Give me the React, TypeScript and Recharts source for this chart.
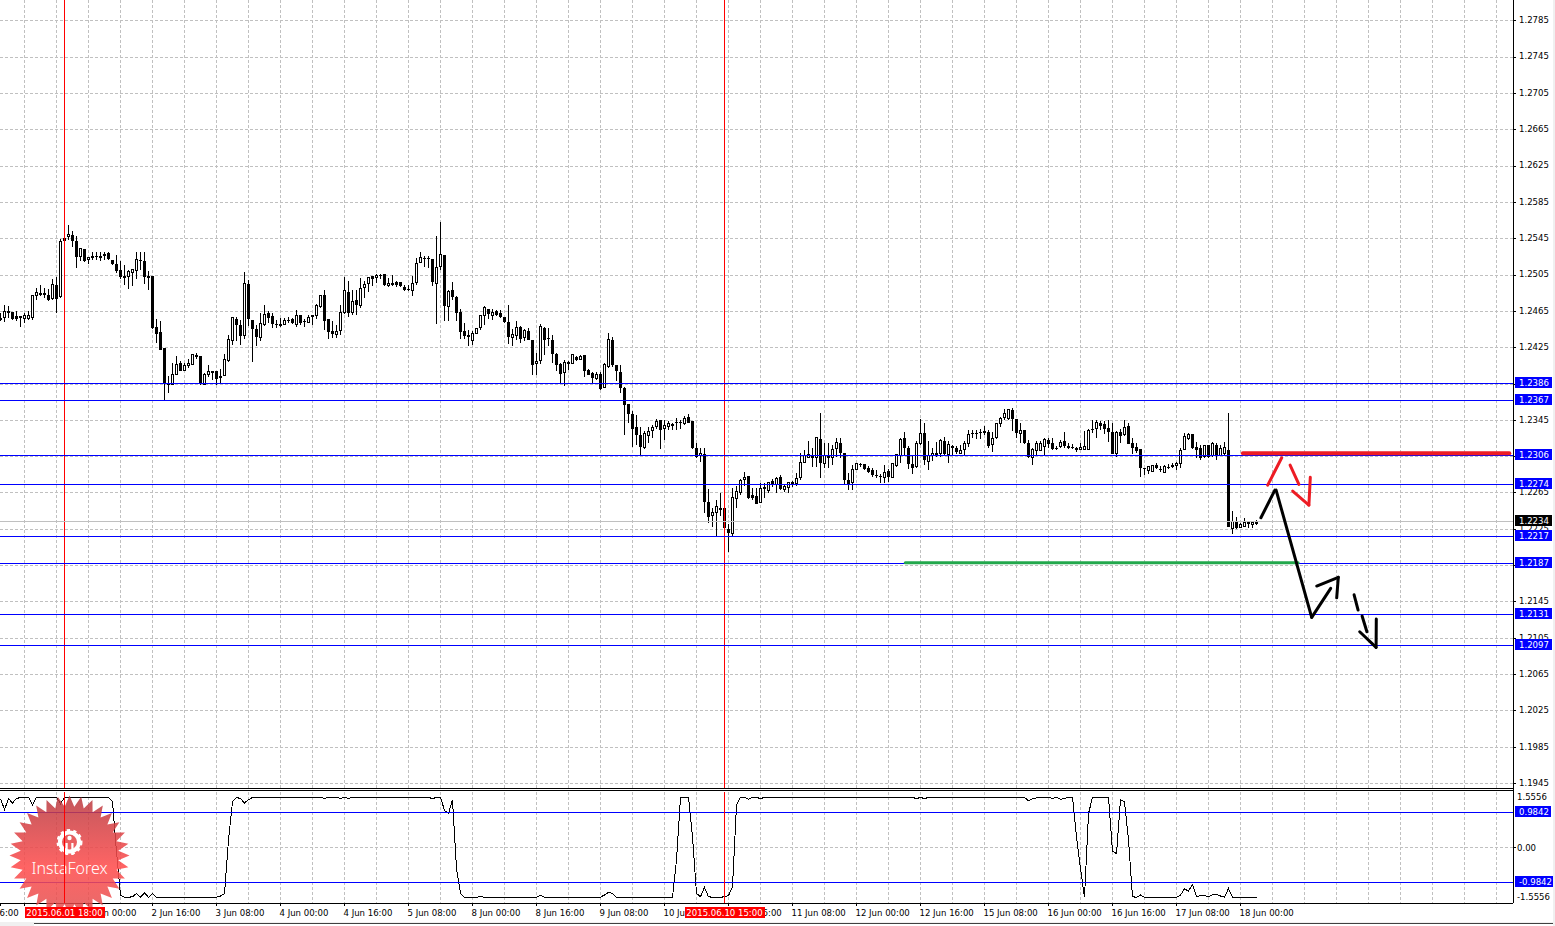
import React from "react";
import {
  ComposedChart,
  Bar,
  Line,
  XAxis,
  YAxis,
  CartesianGrid,
  ReferenceLine,
} from "recharts";

// hourly EURUSD-style bars, ten per row
const opens = [
  1.2458,1.2458,1.2465,1.2464,1.2460,1.2458,1.2457,1.2457,1.2458,1.2482,
  1.2485,1.2485,1.2483,1.2479,1.2494,1.2481,1.2546,1.2547,1.2549,1.2542,
  1.2525,1.2534,1.2522,1.2526,1.2526,1.2526,1.2528,1.2529,1.2522,1.2517,
  1.2511,1.2504,1.2503,1.2508,1.2510,1.2522,1.2521,1.2504,1.2504,1.2448,
  1.2442,1.2425,1.2386,1.2384,1.2395,1.2408,1.2400,1.2405,1.2407,1.2417,
  1.2416,1.2385,1.2395,1.2398,1.2399,1.2394,1.2394,1.2411,1.2433,1.2457,
  1.2450,1.2438,1.2495,1.2455,1.2446,1.2436,1.2450,1.2463,1.2460,1.2451,
  1.2451,1.2451,1.2456,1.2457,1.2451,1.2461,1.2454,1.2453,1.2461,1.2460,
  1.2470,1.2483,1.2457,1.2443,1.2439,1.2444,1.2464,1.2486,1.2464,1.2478,
  1.2471,1.2491,1.2496,1.2504,1.2502,1.2505,1.2506,1.2493,1.2496,1.2497,
  1.2497,1.2492,1.2490,1.2488,1.2497,1.2519,1.2524,1.2524,1.2523,1.2496,
  1.2514,1.2527,1.2470,1.2488,1.2481,1.2464,1.2443,1.2439,1.2433,1.2441,
  1.2447,1.2460,1.2468,1.2461,1.2465,1.2463,1.2459,1.2453,1.2436,1.2438,
  1.2448,1.2436,1.2443,1.2433,1.2408,1.2411,1.2447,1.2436,1.2434,1.2418,
  1.2407,1.2398,1.2408,1.2408,1.2415,1.2412,1.2417,1.2400,1.2397,1.2391,
  1.2396,1.2381,1.2404,1.2433,1.2406,1.2398,1.2381,1.2363,1.2352,1.2338,
  1.2329,1.2315,1.2328,1.2334,1.2338,1.2345,1.2336,1.2338,1.2341,1.2343,
  1.2343,1.2341,1.2349,1.2344,1.2315,1.2306,1.2308,1.2255,1.2240,1.2244,
  1.2249,1.2248,1.2225,1.2220,1.2259,1.2265,1.2280,1.2284,1.2263,1.2262,
  1.2254,1.2272,1.2268,1.2278,1.2274,1.2283,1.2269,1.2271,1.2275,1.2275,
  1.2282,1.2299,1.2304,1.2306,1.2304,1.2324,1.2298,1.2306,1.2304,1.2314,
  1.2320,1.2309,1.2279,1.2276,1.2291,1.2297,1.2297,1.2293,1.2290,1.2285,
  1.2284,1.2282,1.2289,1.2282,1.2295,1.2306,1.2325,1.2315,1.2297,1.2294,
  1.2319,1.2331,1.2300,1.2306,1.2309,1.2308,1.2322,1.2307,1.2315,1.2314,
  1.2309,1.2313,1.2319,1.2331,1.2331,1.2332,1.2333,1.2332,1.2318,1.2326,
  1.2341,1.2348,1.2347,1.2356,1.2346,1.2331,1.2334,1.2320,1.2304,1.2312,
  1.2312,1.2316,1.2323,1.2320,1.2315,1.2316,1.2322,1.2317,1.2316,1.2314,
  1.2313,1.2313,1.2313,1.2335,1.2336,1.2342,1.2341,1.2337,1.2332,1.2308,
  1.2332,1.2329,1.2339,1.2320,1.2316,1.2313,1.2293,1.2290,1.2289,1.2296,
  1.2291,1.2288,1.2294,1.2296,1.2295,1.2297,1.2313,1.2325,1.2330,1.2316,
  1.2315,1.2305,1.2318,1.2306,1.2318,1.2306,1.2309,1.2312,1.2226,1.2233,
  1.2227,1.2228,1.2231,1.2230,1.2232,
];

const highs = [
  1.2463,1.2472,1.2471,1.2464,1.2465,1.2460,1.2463,1.2465,1.2483,1.2491,
  1.2494,1.2491,1.2490,1.2501,1.2503,1.2545,1.2548,1.2560,1.2554,1.2548,
  1.2534,1.2534,1.2524,1.2530,1.2530,1.2530,1.2530,1.2530,1.2522,1.2527,
  1.2520,1.2516,1.2511,1.2511,1.2530,1.2530,1.2530,1.2509,1.2504,1.2457,
  1.2454,1.2425,1.2394,1.2408,1.2416,1.2410,1.2408,1.2413,1.2417,1.2419,
  1.2416,1.2397,1.2406,1.2399,1.2399,1.2402,1.2418,1.2439,1.2459,1.2459,
  1.2456,1.2508,1.2500,1.2455,1.2450,1.2463,1.2472,1.2465,1.2463,1.2455,
  1.2458,1.2458,1.2459,1.2458,1.2467,1.2461,1.2457,1.2461,1.2461,1.2473,
  1.2483,1.2489,1.2457,1.2454,1.2450,1.2472,1.2503,1.2498,1.2488,1.2488,
  1.2502,1.2498,1.2502,1.2504,1.2506,1.2506,1.2506,1.2502,1.2505,1.2498,
  1.2497,1.2494,1.2494,1.2504,1.2524,1.2530,1.2526,1.2526,1.2523,1.2548,
  1.2563,1.2527,1.2489,1.2497,1.2482,1.2468,1.2452,1.2444,1.2443,1.2447,
  1.2461,1.2471,1.2468,1.2468,1.2467,1.2467,1.2459,1.2472,1.2446,1.2454,
  1.2449,1.2446,1.2447,1.2433,1.2419,1.2451,1.2448,1.2447,1.2439,1.2419,
  1.2408,1.2411,1.2410,1.2418,1.2416,1.2417,1.2417,1.2401,1.2398,1.2398,
  1.2398,1.2408,1.2441,1.2437,1.2406,1.2406,1.2382,1.2363,1.2355,1.2351,
  1.2338,1.2333,1.2338,1.2340,1.2347,1.2345,1.2345,1.2344,1.2342,1.2348,
  1.2345,1.2350,1.2352,1.2344,1.2320,1.2314,1.2314,1.2269,1.2248,1.2257,
  1.2265,1.2248,1.2231,1.2271,1.2273,1.2280,1.2288,1.2284,1.2270,1.2270,
  1.2276,1.2276,1.2277,1.2280,1.2283,1.2285,1.2275,1.2277,1.2278,1.2287,
  1.2309,1.2312,1.2322,1.2314,1.2327,1.2353,1.2320,1.2320,1.2318,1.2326,
  1.2325,1.2309,1.2287,1.2296,1.2298,1.2298,1.2297,1.2295,1.2293,1.2290,
  1.2286,1.2296,1.2291,1.2298,1.2308,1.2325,1.2332,1.2317,1.2307,1.2322,
  1.2346,1.2342,1.2322,1.2314,1.2321,1.2324,1.2327,1.2322,1.2318,1.2317,
  1.2318,1.2322,1.2334,1.2334,1.2334,1.2336,1.2339,1.2334,1.2332,1.2342,
  1.2349,1.2357,1.2358,1.2359,1.2346,1.2342,1.2334,1.2323,1.2314,1.2322,
  1.2322,1.2326,1.2326,1.2325,1.2317,1.2323,1.2332,1.2320,1.2319,1.2316,
  1.2320,1.2333,1.2335,1.2345,1.2345,1.2344,1.2344,1.2345,1.2342,1.2333,
  1.2336,1.2345,1.2342,1.2325,1.2320,1.2313,1.2293,1.2295,1.2296,1.2298,
  1.2295,1.2296,1.2297,1.2298,1.2299,1.2315,1.2331,1.2331,1.2330,1.2321,
  1.2318,1.2318,1.2318,1.2321,1.2320,1.2318,1.2321,1.2353,1.2245,1.2239,
  1.2232,1.2237,1.2233,1.2232,1.2235,
];

const lows = [
  1.2454,1.2453,1.2458,1.2455,1.2454,1.2448,1.2452,1.2455,1.2455,1.2477,
  1.2482,1.2480,1.2476,1.2477,1.2463,1.2480,1.2540,1.2544,1.2536,1.2513,
  1.2520,1.2519,1.2517,1.2522,1.2522,1.2521,1.2522,1.2522,1.2516,1.2507,
  1.2501,1.2494,1.2490,1.2493,1.2501,1.2511,1.2495,1.2489,1.2446,1.2430,
  1.2422,1.2367,1.2375,1.2384,1.2395,1.2399,1.2399,1.2403,1.2406,1.2413,
  1.2384,1.2384,1.2393,1.2389,1.2384,1.2386,1.2394,1.2409,1.2428,1.2432,
  1.2428,1.2435,1.2449,1.2409,1.2427,1.2432,1.2449,1.2452,1.2447,1.2447,
  1.2448,1.2450,1.2452,1.2451,1.2448,1.2450,1.2448,1.2452,1.2450,1.2457,
  1.2469,1.2444,1.2435,1.2436,1.2436,1.2439,1.2462,1.2459,1.2461,1.2461,
  1.2469,1.2480,1.2486,1.2493,1.2496,1.2501,1.2493,1.2492,1.2493,1.2492,
  1.2492,1.2487,1.2487,1.2482,1.2494,1.2518,1.2514,1.2513,1.2493,1.2451,
  1.2511,1.2454,1.2454,1.2477,1.2454,1.2435,1.2435,1.2427,1.2428,1.2440,
  1.2445,1.2450,1.2457,1.2455,1.2460,1.2458,1.2452,1.2429,1.2427,1.2433,
  1.2430,1.2432,1.2433,1.2395,1.2395,1.2407,1.2417,1.2427,1.2408,1.2399,
  1.2386,1.2383,1.2400,1.2407,1.2410,1.2411,1.2393,1.2395,1.2386,1.2389,
  1.2378,1.2381,1.2403,1.2404,1.2388,1.2375,1.2329,1.2342,1.2316,1.2318,
  1.2307,1.2313,1.2320,1.2325,1.2336,1.2313,1.2323,1.2334,1.2334,1.2334,
  1.2336,1.2340,1.2342,1.2313,1.2304,1.2299,1.2243,1.2232,1.2228,1.2216,
  1.2240,1.2221,1.2200,1.2216,1.2248,1.2263,1.2273,1.2258,1.2257,1.2253,
  1.2254,1.2260,1.2265,1.2272,1.2265,1.2268,1.2266,1.2265,1.2272,1.2273,
  1.2279,1.2298,1.2303,1.2294,1.2294,1.2281,1.2292,1.2293,1.2296,1.2305,
  1.2303,1.2275,1.2268,1.2268,1.2290,1.2294,1.2290,1.2287,1.2283,1.2281,
  1.2276,1.2276,1.2277,1.2281,1.2294,1.2298,1.2306,1.2291,1.2286,1.2293,
  1.2318,1.2296,1.2290,1.2300,1.2305,1.2305,1.2307,1.2298,1.2307,1.2308,
  1.2309,1.2307,1.2316,1.2325,1.2324,1.2324,1.2329,1.2315,1.2310,1.2324,
  1.2338,1.2345,1.2345,1.2333,1.2325,1.2320,1.2319,1.2304,1.2296,1.2307,
  1.2311,1.2307,1.2315,1.2312,1.2312,1.2314,1.2315,1.2313,1.2313,1.2310,
  1.2312,1.2313,1.2313,1.2331,1.2325,1.2334,1.2330,1.2321,1.2308,1.2305,
  1.2320,1.2328,1.2319,1.2308,1.2309,1.2283,1.2285,1.2286,1.2288,1.2291,
  1.2288,1.2287,1.2291,1.2292,1.2290,1.2292,1.2312,1.2323,1.2313,1.2303,
  1.2301,1.2303,1.2304,1.2305,1.2301,1.2306,1.2307,1.2228,1.2220,1.2225,
  1.2226,1.2227,1.2226,1.2226,1.2230,
];

const closes = [
  1.2455,1.2465,1.2463,1.2457,1.2457,1.2459,1.2460,1.2460,1.2482,1.2486,
  1.2483,1.2483,1.2478,1.2495,1.2479,1.2542,1.2542,1.2550,1.2542,1.2525,
  1.2534,1.2520,1.2524,1.2524,1.2525,1.2524,1.2526,1.2523,1.2517,1.2509,
  1.2503,1.2502,1.2509,1.2511,1.2522,1.2521,1.2503,1.2502,1.2447,1.2440,
  1.2422,1.2385,1.2384,1.2396,1.2407,1.2399,1.2405,1.2408,1.2417,1.2415,
  1.2385,1.2396,1.2399,1.2399,1.2391,1.2392,1.2412,1.2434,1.2458,1.2450,
  1.2438,1.2496,1.2457,1.2446,1.2437,1.2452,1.2462,1.2458,1.2451,1.2450,
  1.2449,1.2455,1.2454,1.2452,1.2461,1.2452,1.2453,1.2458,1.2459,1.2471,
  1.2483,1.2454,1.2442,1.2440,1.2443,1.2464,1.2488,1.2463,1.2476,1.2472,
  1.2490,1.2495,1.2502,1.2501,1.2505,1.2504,1.2494,1.2496,1.2494,1.2494,
  1.2493,1.2489,1.2489,1.2496,1.2518,1.2524,1.2523,1.2523,1.2497,1.2513,
  1.2528,1.2471,1.2487,1.2481,1.2463,1.2442,1.2438,1.2437,1.2441,1.2446,
  1.2461,1.2469,1.2462,1.2464,1.2461,1.2459,1.2453,1.2437,1.2439,1.2447,
  1.2435,1.2444,1.2434,1.2406,1.2410,1.2448,1.2433,1.2435,1.2418,1.2406,
  1.2396,1.2409,1.2409,1.2417,1.2411,1.2415,1.2399,1.2395,1.2392,1.2396,
  1.2380,1.2406,1.2434,1.2406,1.2399,1.2381,1.2362,1.2352,1.2336,1.2329,
  1.2316,1.2330,1.2333,1.2337,1.2344,1.2334,1.2339,1.2341,1.2339,1.2342,
  1.2342,1.2347,1.2342,1.2314,1.2305,1.2309,1.2255,1.2239,1.2244,1.2250,
  1.2246,1.2226,1.2221,1.2260,1.2267,1.2279,1.2282,1.2260,1.2259,1.2253,
  1.2270,1.2269,1.2276,1.2274,1.2281,1.2269,1.2272,1.2276,1.2276,1.2281,
  1.2299,1.2306,1.2307,1.2304,1.2326,1.2298,1.2306,1.2303,1.2313,1.2321,
  1.2309,1.2279,1.2275,1.2291,1.2297,1.2297,1.2291,1.2288,1.2285,1.2284,
  1.2283,1.2288,1.2283,1.2297,1.2307,1.2324,1.2314,1.2297,1.2293,1.2320,
  1.2330,1.2301,1.2306,1.2309,1.2306,1.2323,1.2308,1.2318,1.2316,1.2310,
  1.2312,1.2320,1.2329,1.2330,1.2331,1.2331,1.2331,1.2317,1.2325,1.2341,
  1.2347,1.2353,1.2357,1.2346,1.2331,1.2334,1.2320,1.2305,1.2313,1.2320,
  1.2320,1.2324,1.2319,1.2313,1.2313,1.2321,1.2317,1.2315,1.2314,1.2312,
  1.2315,1.2316,1.2334,1.2334,1.2343,1.2339,1.2336,1.2332,1.2308,1.2332,
  1.2328,1.2337,1.2319,1.2315,1.2311,1.2293,1.2292,1.2294,1.2295,1.2292,
  1.2290,1.2294,1.2293,1.2294,1.2298,1.2312,1.2327,1.2329,1.2315,1.2312,
  1.2304,1.2317,1.2305,1.2319,1.2307,1.2314,1.2315,1.2228,1.2234,1.2226,
  1.2230,1.2233,1.2232,1.2232,1.2233,
];

const H = 1.405;
const L = -1.395;
const osc = [
  1.37,1.06,1.37,1.25,1.37,H,H,H,1.19,H,
  H,H,H,H,H,1.23,H,H,H,H,
  H,H,H,H,H,H,H,H,1.28,-0.12,
  -1.33,L,L,-1.38,-1.29,L,-1.27,L,-1.29,L,
  L,L,L,L,L,L,L,L,L,-1.39,
  L,L,L,L,L,-1.36,-1.29,0.21,1.28,H,
  1.37,1.25,1.34,H,H,H,H,H,H,H,
  H,H,H,H,H,H,H,H,H,H,
  H,1.38,H,H,H,1.38,H,1.38,H,H,
  H,H,H,H,H,H,H,H,H,H,
  H,H,H,H,H,H,H,H,1.37,H,
  H,1.04,0.95,1.34,-0.59,-1.29,L,L,L,L,
  -1.37,L,L,L,L,L,L,L,L,L,
  L,L,L,L,L,-1.34,L,L,L,L,
  L,L,L,L,L,L,L,L,L,L,
  -1.39,-1.33,-1.26,-1.29,L,L,L,L,L,L,
  L,L,L,L,L,L,L,L,L,-0.35,
  H,H,H,0.3,-1.29,-1.38,-1.12,-1.38,L,L,
  L,-1.38,-1.35,-1.1,1.19,H,H,1.35,H,H,
  1.37,H,H,H,H,H,H,H,H,H,
  H,H,H,H,H,H,H,H,H,H,
  H,H,H,H,H,H,H,H,H,H,
  H,H,H,H,H,H,H,H,H,1.37,
  H,1.37,H,H,H,H,H,H,H,H,
  H,H,H,H,H,H,H,H,H,H,
  H,H,H,H,H,H,H,1.31,1.37,1.39,
  H,H,H,1.38,H,1.35,1.38,H,H,0.3,
  -0.59,L,0.95,H,H,H,H,H,-0.1,-0.17,
  1.34,1.28,0.21,-1.38,L,-1.33,L,L,L,L,
  L,L,L,L,L,-1.33,-1.16,-1.22,-1.04,-1.38,
  -1.35,-1.35,-1.38,-1.32,-1.32,-1.36,L,-1.15,L,L,
  L,L,L,L,L,
];

const priceTicks = [
  1.2785,1.2745,1.2705,1.2665,1.2625,1.2585,1.2545,1.2505,1.2465,1.2425,1.2385,
  1.2345,1.2305,1.2265,1.2225,1.2185,1.2145,1.2105,1.2065,1.2025,1.1985,1.1945,
];
const gridBars = [
  6,14,22,30,38,46,54,62,70,78,86,94,102,110,118,126,134,142,150,158,166,174,182,190,
  198,206,214,222,230,238,246,254,262,270,278,286,294,302,310,318,326,334,342,350,358,366,374,
];
const timeBars = [0,6,22,38,54,70,86,102,118,134,150,166,182,198,214,230,246,262,278,294,310];
const timeLabels = [
  "6:00","","2 Jun 00:00","2 Jun 16:00","3 Jun 08:00","4 Jun 00:00","4 Jun 16:00",
  "5 Jun 08:00","8 Jun 00:00","8 Jun 16:00","9 Jun 08:00","10 Jun 00:00","10 Jun 16:00",
  "11 Jun 08:00","12 Jun 00:00","12 Jun 16:00","15 Jun 08:00","16 Jun 00:00","16 Jun 16:00",
  "17 Jun 08:00","18 Jun 00:00",
];
const levels = [1.2386,1.2367,1.2306,1.2274,1.2217,1.2187,1.2131,1.2097];
const oscLevels = [0.9842,-0.9842];
const oscTicks = [1.5556,0,-1.5556];
const bidPrice = 1.2234;
const markers = [
  { bar: 16, label: "2015.06.01 18:00" },
  { bar: 181, label: "2015.06.10 15:00" },
];

// hand drawn forecast, each stroke is [bar, price, bar, price]
const blackStrokes = [
  [315.1,1.22377,318.6,1.22682],
  [318.9,1.22682,327.8,1.2128],
  [327.8,1.2128,332.55,1.216],
  [329.05,1.21625,334.45,1.21721],
  [334.45,1.21721,334.05,1.21496],
  [338.4,1.21529,339.4,1.21361],
  [340.4,1.21295,341.6,1.21122],
  [339.8,1.21122,343.9,1.2095],
  [343.9,1.2095,343.95,1.21262],
];
const redStrokes = [
  [316.8,1.22737,320.3,1.23038],
  [322.4,1.22958,324.6,1.22745],
  [323.05,1.22671,327.1,1.22517],
  [327.1,1.22517,327.45,1.22822],
];
const redLevel = [310.6,1.23087,377.2,1.23087];
const greenLevel = [226.2,1.21882,324.4,1.21882];

const candles = opens.map((open, i) => ({
  i,
  open,
  high: highs[i],
  low: lows[i],
  close: closes[i],
}));
const oscData = osc.map((value, i) => ({ i, value }));

const FONT = '"DejaVu Sans Condensed", "DejaVu Sans", sans-serif';
const WIDTH = 1555;
const xDomain = [-0.125, 378.125];
const priceDomain = [1.1939, 1.28079];
const oscDomain = [-1.5556, 1.5556];

const Candle = (props: any) => {
  const { x, y, width, height, payload } = props;
  const { open, high, low, close } = payload;
  const cx = Math.floor(x + width / 2) + 0.5;
  const toY = (v: number) => y + ((high - v) / (high - low)) * height;
  const top = toY(Math.max(open, close));
  const bottom = toY(Math.min(open, close));
  const hollow = close > open;
  return (
    <g>
      <line x1={cx} x2={cx} y1={y} y2={y + height} stroke="#000" strokeWidth={1} />
      {hollow ? (
        <rect x={cx - 1} y={top} width={2} height={Math.max(bottom - top, 1)} fill="#fff" stroke="#000" strokeWidth={1} />
      ) : (
        <rect x={cx - 1.5} y={top} width={3} height={Math.max(bottom - top, 1)} fill="#000" />
      )}
    </g>
  );
};

const levelTag = (text: string, bg: string, boxWidth: number) => (props: any) => {
  const { viewBox } = props;
  const right = viewBox.x + viewBox.width;
  const mid = viewBox.y - 1;
  return (
    <g>
      <rect x={right + 2} y={mid - 5.5} width={boxWidth} height={11} fill={bg} />
      <text x={right + 6} y={mid + 3.5} fontSize={9.5} fontFamily={FONT} fill="#fff">
        {text}
      </text>
    </g>
  );
};

const timeTag = (text: string) => (props: any) => {
  const { viewBox } = props;
  const cx = viewBox.x;
  return (
    <g>
      <rect x={cx - 40} y={viewBox.y + viewBox.height + 4} width={80} height={11} fill="#ff0000" />
      <text x={cx} y={viewBox.y + viewBox.height + 13} fontSize={9.5} fontFamily={FONT} fill="#fff" textAnchor="middle">
        {text}
      </text>
    </g>
  );
};

const stroke = (s: number[], color: string, key: string, width = 3) => (
  <ReferenceLine
    key={key}
    segment={[
      { x: s[0], y: s[1] },
      { x: s[2], y: s[3] },
    ]}
    stroke={color}
    strokeWidth={width}
    strokeLinecap="round"
    shapeRendering="auto"
    ifOverflow="visible"
  />
);

const TimeTick = (props: any) => {
  const { x, payload } = props;
  const label = timeLabels[timeBars.indexOf(payload.value)];
  return (
    <text x={x - 1} y={126} fontSize={9.5} fontFamily={FONT} fill="#000">
      {label}
    </text>
  );
};

// the two outer labels of the indicator window sit inside it, only 0.00 gets a tick mark
const OscTick = (props: any) => {
  const { x, y, payload } = props;
  const v = payload.value;
  const labelY = v > 0 ? y + 8 : v < 0 ? y - 3 : y + 3;
  return (
    <g>
      {v === 0 && <line x1={x - 4} x2={x - 1} y1={y} y2={y} stroke="#000" />}
      <text x={x} y={labelY} fontSize={9.5} fontFamily={FONT} fill="#000">
        {v === 0 ? "0.00" : v.toFixed(4)}
      </text>
    </g>
  );
};

const Logo = () => {
  const spikes = 32;
  const cx = 69.5;
  const cy = 855.5;
  const pts: string[] = [];
  for (let k = 0; k < spikes * 2; k++) {
    const r = k % 2 === 0 ? 60 : 49;
    const a = (k * Math.PI) / spikes;
    pts.push(`${cx + r * Math.sin(a)},${cy - r * Math.cos(a)}`);
  }
  return (
    <svg width={WIDTH} height={926} style={{ position: "absolute", left: 0, top: 0, pointerEvents: "none", shapeRendering: "auto" }}>
      <defs>
        <linearGradient id="star" x1="0" y1="0" x2="0" y2="1">
          <stop offset="0" stopColor="#b83a40" stopOpacity={0.85} />
          <stop offset="0.6" stopColor="#ff4f4f" stopOpacity={0.88} />
          <stop offset="1" stopColor="#e04a4a" stopOpacity={0.82} />
        </linearGradient>
      </defs>
      <polygon points={pts.join(" ")} fill="url(#star)" />
      <circle cx={69.5} cy={842} r={9.5} fill="none" stroke="#fff" strokeWidth={4} />
      <circle cx={69.5} cy={842} r={11.5} fill="none" stroke="#fff" strokeWidth={3} strokeDasharray="3.2 3.2" />
      <circle cx={69.5} cy={838} r={2.2} fill="#fff" />
      <rect x={65.5} y={843} width={2.2} height={12} fill="#fff" />
      <rect x={71.3} y={843} width={2.2} height={12} fill="#fff" />
      <text x={69.5} y={874} fontSize={16} fontFamily='"Noto Sans", "Open Sans", sans-serif' fontWeight={300} fill="#fff" textAnchor="middle">
        InstaForex
      </text>
    </svg>
  );
};

export default function App() {
  return (
    <div style={{ position: "absolute", left: 0, top: 0, width: WIDTH, height: 926, background: "#fff", overflow: "hidden", shapeRendering: "crispEdges" }}>
      <div style={{ position: "absolute", left: 0, top: 0 }}>
        <ComposedChart width={WIDTH} height={789} data={candles} margin={{ top: 0, right: 0, bottom: 0, left: 0 }}>
          <CartesianGrid stroke="#c0c0c0" strokeDasharray="3 2" verticalValues={gridBars} horizontalValues={priceTicks} />
          <XAxis type="number" dataKey="i" domain={xDomain} hide allowDataOverflow />
          <YAxis
            orientation="right"
            width={42}
            type="number"
            domain={priceDomain}
            ticks={priceTicks}
            interval={0}
            allowDataOverflow
            tickFormatter={(v: number) => v.toFixed(4)}
            tick={{ fontSize: 9.5, fontFamily: FONT, fill: "#000", dy: -1 }}
            tickSize={3}
            tickMargin={3}
            axisLine={{ stroke: "#000" }}
            tickLine={{ stroke: "#000" }}
          />
          <Bar dataKey={(d: any) => [d.low, d.high]} barSize={3} shape={<Candle />} isAnimationActive={false} />
        </ComposedChart>
      </div>

      {/* lines and price tags go in a second chart so they lie over the axis labels */}
      <div style={{ position: "absolute", left: 0, top: 0 }}>
        <ComposedChart width={WIDTH} height={789} data={candles} margin={{ top: 0, right: 42, bottom: 0, left: 0 }}>
          <XAxis type="number" dataKey="i" domain={xDomain} hide allowDataOverflow />
          <YAxis type="number" domain={priceDomain} hide allowDataOverflow />
          {markers.map((m) => (
            <ReferenceLine key={m.bar} x={m.bar} stroke="#ff0000" strokeWidth={1} />
          ))}
          <ReferenceLine y={bidPrice} stroke="#c0c0c0" label={levelTag("1.2234", "#000", 37)} />
          {levels.map((v) => (
            <ReferenceLine key={v} y={v} stroke="#0000ff" strokeWidth={1} label={levelTag(v.toFixed(4), "#0000ff", 37)} />
          ))}
          {stroke(redLevel, "#ed1c24", "red-level", 4)}
          {stroke(greenLevel, "#22a84c", "green-level", 3)}
          {redStrokes.map((s, k) => stroke(s, "#ed1c24", `r${k}`))}
          {blackStrokes.map((s, k) => stroke(s, "#000", `b${k}`))}
        </ComposedChart>
      </div>

      <div style={{ position: "absolute", left: 0, top: 788, width: 1513, height: 1, background: "#000" }} />
      <div style={{ position: "absolute", left: 0, top: 790, width: 1513, height: 1, background: "#000" }} />
      <div style={{ position: "absolute", left: 1513, top: 788, width: 1, height: 5, background: "#000" }} />

      <div style={{ position: "absolute", left: 0, top: 790 }}>
        <ComposedChart width={WIDTH} height={136} data={oscData} margin={{ top: 2, right: 0, bottom: 0, left: 0 }}>
          <CartesianGrid stroke="#c0c0c0" strokeDasharray="3 2" verticalValues={gridBars} horizontalValues={[0]} />
          <XAxis
            type="number"
            dataKey="i"
            domain={xDomain}
            ticks={timeBars}
            interval={0}
            height={23}
            allowDataOverflow
            tick={<TimeTick />}
            tickSize={3}
            axisLine={{ stroke: "#000" }}
            tickLine={{ stroke: "#000" }}
          />
          <YAxis
            orientation="right"
            width={42}
            type="number"
            domain={oscDomain}
            ticks={oscTicks}
            interval={0}
            allowDataOverflow
            tick={<OscTick />}
            tickLine={false}
            tickSize={2}
            tickMargin={2}
            axisLine={{ stroke: "#000" }}
          />
          <Line dataKey="value" type="linear" stroke="#000" strokeWidth={1} dot={false} isAnimationActive={false} />
        </ComposedChart>
      </div>

      <div style={{ position: "absolute", left: 0, top: 790 }}>
        <ComposedChart width={WIDTH} height={136} data={oscData} margin={{ top: 2, right: 42, bottom: 23, left: 0 }}>
          <XAxis type="number" dataKey="i" domain={xDomain} hide allowDataOverflow />
          <YAxis type="number" domain={oscDomain} hide allowDataOverflow />
          {oscLevels.map((v) => (
            <ReferenceLine key={v} y={v} stroke="#0000ff" strokeWidth={1} label={levelTag(v.toFixed(4), "#0000ff", v < 0 ? 38 : 36)} />
          ))}
        </ComposedChart>
      </div>

      <Logo />

      {/* time markers stay on top of the logo */}
      <div style={{ position: "absolute", left: 0, top: 790 }}>
        <ComposedChart width={WIDTH} height={136} data={oscData} margin={{ top: 2, right: 42, bottom: 23, left: 0 }}>
          <XAxis type="number" dataKey="i" domain={xDomain} hide allowDataOverflow />
          <YAxis type="number" domain={oscDomain} hide allowDataOverflow />
          {markers.map((m) => (
            <ReferenceLine key={m.bar} x={m.bar} stroke="#ff0000" strokeWidth={1} label={timeTag(m.label)} />
          ))}
        </ComposedChart>
      </div>

      <div style={{ position: "absolute", left: 0, top: 922, width: WIDTH, height: 4, background: "#f0f0f0" }} />
      <div style={{ position: "absolute", left: 34, top: 923, width: 1521, height: 1, background: "#404040" }} />
      <div style={{ position: "absolute", left: 34, top: 924, width: 1521, height: 2, background: "#fff" }} />
      <div style={{ position: "absolute", left: 1553, top: 0, width: 2, height: 926, background: "#f0f0f0" }} />
    </div>
  );
}
